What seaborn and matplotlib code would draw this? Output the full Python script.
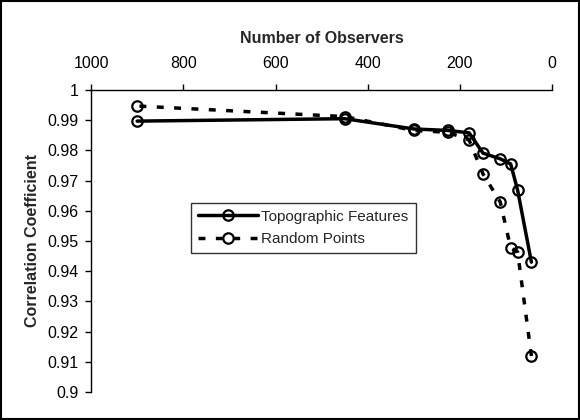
import matplotlib
matplotlib.use("Agg")
import matplotlib.pyplot as plt
import matplotlib.patches as patches
import seaborn as sns

# Data
observers = [900, 450, 300, 225, 180, 150, 112.5, 90, 75, 45]
topographic = [0.9897, 0.9905, 0.9871, 0.9866, 0.9858, 0.9791, 0.9772, 0.9755, 0.9669, 0.9430]
random_pts = [0.9947, 0.9912, 0.9866, 0.9860, 0.9834, 0.9722, 0.9629, 0.9477, 0.9464, 0.9119]

sns.set_theme(style="white")
plt.rcParams['font.family'] = ['Liberation Sans', 'DejaVu Sans']

fig = plt.figure(figsize=(5.8, 4.2), dpi=100)
ax = fig.add_axes([0.157, 0.0667, 0.795, 0.719])

sns.lineplot(
    x=observers, y=topographic, ax=ax,
    color="black", linewidth=2.5,
    marker="o", markersize=7.5, markerfacecolor="none",
    markeredgecolor="black", markeredgewidth=1.6,
    label="Topographic Features"
)
sns.lineplot(
    x=observers, y=random_pts, ax=ax,
    color="black", linewidth=2.5, linestyle=(0, (2, 3)),
    marker="o", markersize=7.5, markerfacecolor="none",
    markeredgecolor="black", markeredgewidth=1.6,
    label="Random Points"
)

ax.set_xlim(1000, 0)
ax.set_ylim(0.9, 1.0)
ax.set_xticks([1000, 800, 600, 400, 200, 0])
ax.set_yticks([0.9 + 0.01 * i for i in range(11)])
ax.set_yticklabels(["0.9", "0.91", "0.92", "0.93", "0.94", "0.95",
                    "0.96", "0.97", "0.98", "0.99", "1"])

ax.xaxis.tick_top()
ax.xaxis.set_label_position("top")
ax.set_xlabel("Number of Observers", fontsize=11.5, fontweight="bold", labelpad=9)
ax.set_ylabel("Correlation Coefficient", fontsize=11.5, fontweight="bold", labelpad=5)

for side in ["right", "bottom"]:
    ax.spines[side].set_visible(False)
for side in ["left", "top"]:
    ax.spines[side].set_color("black")
    ax.spines[side].set_linewidth(1.0)
ax.tick_params(axis="both", colors="black", labelsize=11.5, length=4,
               width=1.0, direction="out", left=True, top=True)
ax.tick_params(axis="x", pad=10)
ax.tick_params(axis="y", pad=5)

leg = ax.legend(loc="upper left", bbox_to_anchor=(0.217, 0.626),
                fontsize=11, frameon=True, fancybox=False,
                handlelength=3.9, handletextpad=0.25,
                borderpad=0.45, labelspacing=0.55, borderaxespad=0)
leg.get_frame().set_edgecolor("black")
leg.get_frame().set_linewidth(1.0)

fig.add_artist(patches.Rectangle((0.002, 0.002), 0.996, 0.995,
                                 transform=fig.transFigure, fill=False,
                                 edgecolor="black", linewidth=1.5))

plt.savefig("out.png", dpi=100)
plt.close()
